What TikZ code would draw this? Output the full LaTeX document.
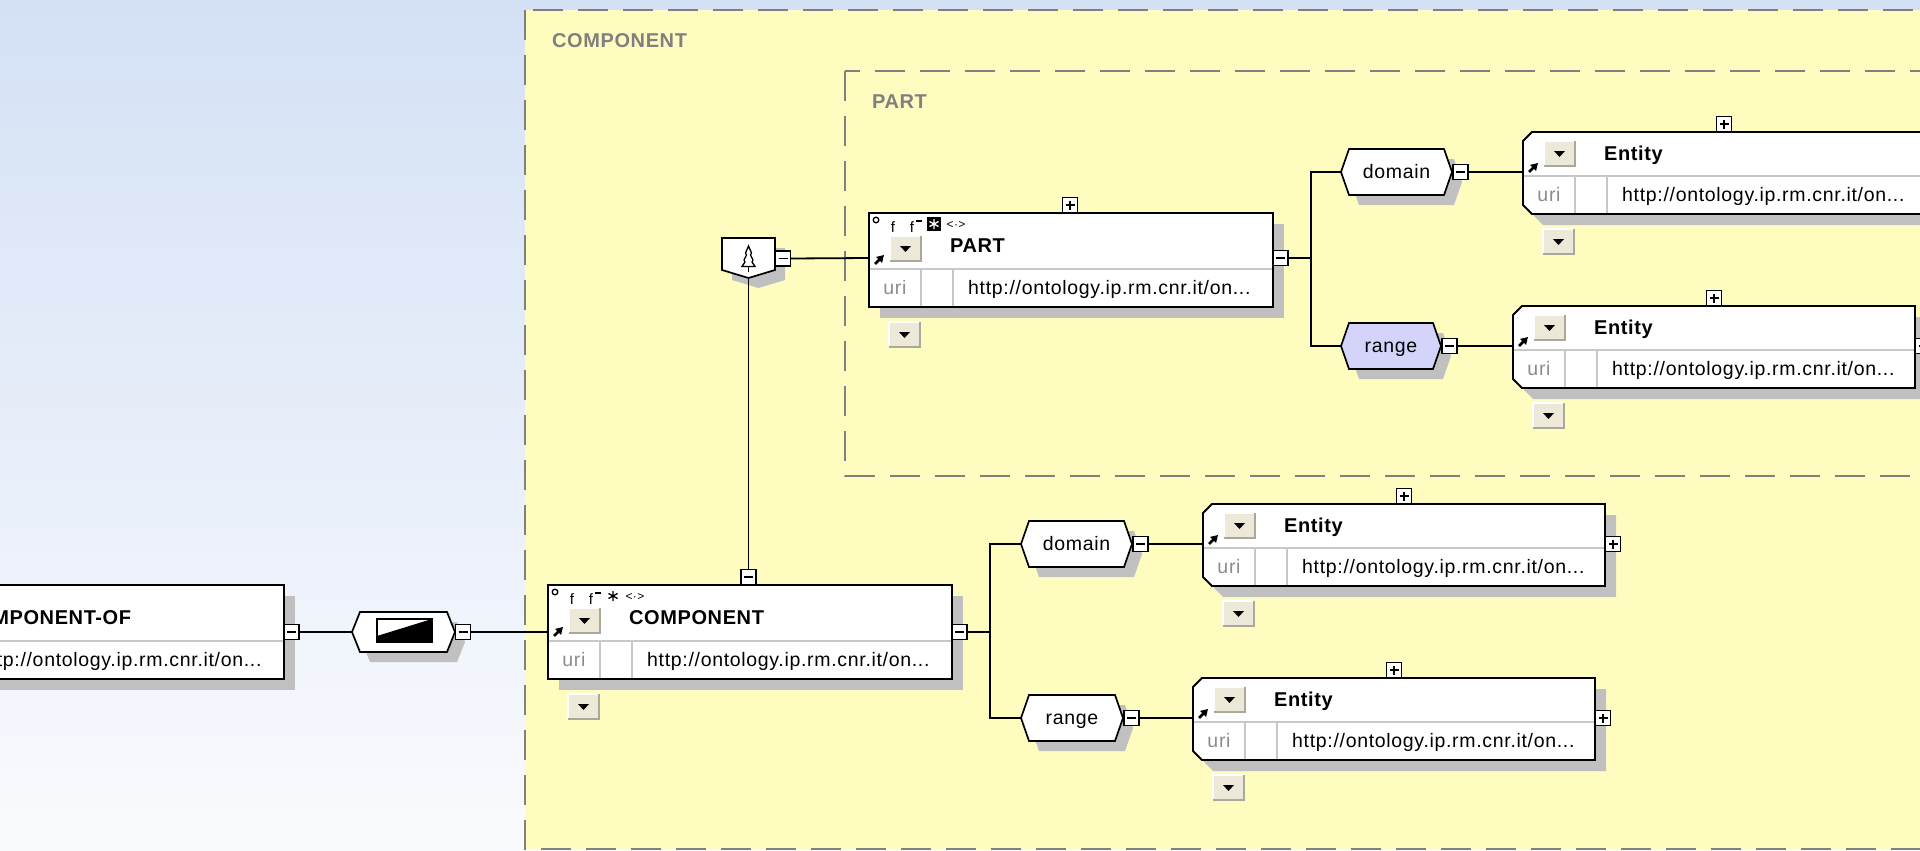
\documentclass[tikz,border=0pt]{standalone}
\usepackage{fontspec}
\setmainfont{Liberation Sans}
\newfontfamily\regf{Liberation Sans}[LetterSpace=3.5]
\newfontfamily\boldf{Liberation Sans}[LetterSpace=3]
\usetikzlibrary{arrows.meta}
\definecolor{ybg}{RGB}{255,252,192}
\definecolor{bgtop}{RGB}{212,225,245}
\definecolor{bgbot}{RGB}{250,251,254}
\definecolor{dashg}{RGB}{128,128,128}
\definecolor{grpg}{RGB}{128,128,128}
\definecolor{shad}{RGB}{192,192,192}
\definecolor{innerg}{RGB}{200,200,200}
\definecolor{urig}{RGB}{140,140,140}
\definecolor{btnbg}{RGB}{236,233,216}
\definecolor{btndk}{RGB}{172,168,153}
\definecolor{lav}{RGB}{212,212,250}
\tikzset{
  conn/.style={draw=black, line width=1.8pt},
  boxline/.style={draw=black, line width=1.9pt},
  innerl/.style={draw=innerg, line width=1.3pt},
  pmbox/.style={rectangle, draw=black, line width=1.4pt, fill=white, minimum size=15pt, inner sep=0pt, outer sep=0pt},
  pmsign/.style={draw=black, line width=1.5pt},
  dropbtn/.style={rectangle, fill=btnbg, minimum width=31pt, minimum height=25pt, inner sep=0pt, outer sep=0pt},
  ttl/.style={font=\boldf\bfseries\fontsize{20}{24}\selectfont, anchor=base west, inner sep=0pt},
  urltxt/.style={font=\regf\fontsize{19.5}{23}\selectfont, anchor=base west, inner sep=0pt},
  uritxt/.style={font=\regf\fontsize{19.5}{23}\selectfont, text=urig, inner sep=0pt},
  hextxt/.style={font=\regf\fontsize{19.5}{23}\selectfont, inner sep=0pt},
  grplbl/.style={font=\boldf\bfseries\fontsize{20}{24}\selectfont, text=grpg, anchor=base west, inner sep=0pt},
  grpdash/.style={draw=dashg, line width=2pt, dash pattern=on 30pt off 15pt},
  icn/.style={font=\regf\fontsize{15}{17}\selectfont, inner sep=0pt},
  smarrow/.style={line width=2.6pt, -{Triangle[length=7pt,width=8pt]}},
}
\newcommand\PMBox[4]{%
  \node[pmbox] (#1) at (#2,#3) {};
  \draw[pmsign] ([xshift=-4.5pt]#1.center) -- ([xshift=4.5pt]#1.center);
  \if#4+\draw[pmsign] ([yshift=-4.5pt]#1.center) -- ([yshift=4.5pt]#1.center);\fi
}
\newcommand\DropBtn[3]{%
  \node[dropbtn, anchor=north west] (#1) at (#2,#3) {};
  \draw[white, line width=1.5pt] (#1.south west) -- (#1.north west) -- (#1.north east);
  \draw[btndk, line width=1.5pt] (#1.north east) -- (#1.south east) -- (#1.south west);
  \fill ([xshift=-5.5pt,yshift=2.5pt]#1.center) -- ([xshift=5.5pt,yshift=2.5pt]#1.center) -- ([yshift=-3.5pt]#1.center) -- cycle;
}
\newcommand\IconRow[4]{%
  \draw[line width=1.3pt] (#2+7,#3+7) circle [radius=2.8pt];
  \node[icn, anchor=base] (#1-i1) at (#2+24,#3+19) {f};
  \node[icn, anchor=base] (#1-i2) at (#2+43,#3+19) {f};
  \draw[line width=1.2pt] (#2+47,#3+8) -- (#2+53,#3+8);
  \ifnum#4=1 \fill[black] (#2+58,#3+4) rectangle (#2+72,#3+18);\def\stc{white}\else\def\stc{black}\fi
  \draw[\stc, line width=1.3pt] (#2+65,#3+6) -- (#2+65,#3+16) (#2+60.5,#3+8.5) -- (#2+69.5,#3+13.5) (#2+60.5,#3+13.5) -- (#2+69.5,#3+8.5);
  \node[icn, anchor=base, font=\regf\fontsize{12}{14}\selectfont] (#1-i4) at (#2+87,#3+15) {<·>};
}
\newcommand\BigBox[5]{%
  \fill[shad] (#2+11,#3+11) rectangle (#2+415,#3+105);
  \fill[white] (#2,#3) rectangle (#2+404,#3+94);
  \draw[innerl] (#2,#3+56) -- (#2+404,#3+56);
  \draw[innerl] (#2+52,#3+56) -- (#2+52,#3+94);
  \draw[innerl] (#2+84,#3+56) -- (#2+84,#3+94);
  \draw[boxline] (#2,#3) rectangle (#2+404,#3+94);
  \node[uritxt, anchor=base] (#1-uri) at (#2+26,#3+81) {uri};
  \node[urltxt] (#1-url) at (#2+99,#3+81) {http://ontology.ip.rm.cnr.it/on...};
  \node[ttl] (#1-title) at (#2+81,#3+39) {#4};
  \DropBtn{#1-b1}{#2+21}{#3+23}
  \DropBtn{#1-b2}{#2+20}{#3+109}
  \draw[smarrow] (#2+6,#3+51) -- (#2+15,#3+42);
  \IconRow{#1}{#2}{#3}{#5}
}
\newcommand\EntBox[3]{%
  \fill[shad] (#2+11,#3+20) -- (#2+20,#3+11) -- (#2+413,#3+11) -- (#2+413,#3+93) -- (#2+20,#3+93) -- (#2+11,#3+84) -- cycle;
  \fill[white] (#2,#3+9) -- (#2+9,#3) -- (#2+402,#3) -- (#2+402,#3+82) -- (#2+9,#3+82) -- (#2,#3+73) -- cycle;
  \draw[innerl] (#2,#3+44) -- (#2+402,#3+44);
  \draw[innerl] (#2+52,#3+44) -- (#2+52,#3+82);
  \draw[innerl] (#2+84,#3+44) -- (#2+84,#3+82);
  \draw[boxline] (#2,#3+9) -- (#2+9,#3) -- (#2+402,#3) -- (#2+402,#3+82) -- (#2+9,#3+82) -- (#2,#3+73) -- cycle;
  \node[uritxt, anchor=base] (#1-uri) at (#2+26,#3+69) {uri};
  \node[urltxt] (#1-url) at (#2+99,#3+69) {http://ontology.ip.rm.cnr.it/on...};
  \node[ttl] (#1-title) at (#2+81,#3+28) {Entity};
  \DropBtn{#1-b1}{#2+21}{#3+9}
  \DropBtn{#1-b2}{#2+20}{#3+97}
  \draw[smarrow] (#2+6,#3+40) -- (#2+15,#3+31);
  \coordinate (#1-in) at (#2,#3+40);
}
\newcommand\HexShape[7]{%
  \fill[shad] (#2+10,#3+10) -- (#2+18,#3+10-#5/2) -- (#2+#4+2,#3+10-#5/2) -- (#2+#4+10,#3+10) -- (#2+#4+2,#3+10+#5/2) -- (#2+18,#3+10+#5/2) -- cycle;
  \draw[draw=black, line width=1.7pt, fill=#6] (#2,#3) -- (#2+8,#3-#5/2) -- (#2+#4-8,#3-#5/2) -- (#2+#4,#3) -- (#2+#4-8,#3+#5/2) -- (#2+8,#3+#5/2) -- cycle;
  \coordinate (#1-in) at (#2,#3);
  \coordinate (#1-out) at (#2+#4,#3);
  \node[hextxt, anchor=base] (#1-t) at (#2+#4/2,#3+6) {#7};
}
\begin{document}
\begin{tikzpicture}[x=1pt,y=-1pt]
\useasboundingbox (0,0) rectangle (1920,851);
\clip (0,0) rectangle (1920,851);
\shade[top color=bgtop, bottom color=bgbot] (0,0) rectangle (1920,851);
% group areas
\draw[grpdash, fill=ybg] (525,10) rectangle (2000,849);
\draw[grpdash] (845,71) rectangle (2000,476);
\node[grplbl] (lblC) at (552,48) {COMPONENT};
\node[grplbl] (lblP) at (872,108) {PART};

% COMPONENT-OF
\BigBox{cof}{-120}{585}{COMPONENT-OF}{0}
% hex with type icon
\HexShape{h0}{352}{632}{103}{40}{white}{}
\draw[line width=2pt] (377,619) rectangle (432,642);
\fill (377,636) -- (432,619) -- (432,642) -- (377,642) -- cycle;
% COMPONENT
\BigBox{cmp}{548}{585}{COMPONENT}{0}
\coordinate (cmp-in) at (548,632);
% sequence compositor
\fill[shad] (732,248) -- (785,248) -- (785,280) -- (758.5,288) -- (732,280) -- cycle;
\draw[line width=1.7pt, fill=white] (722,238) -- (775,238) -- (775,270) -- (748.5,278) -- (722,270) -- cycle;
\coordinate (seq-bot) at (748.5,278);
\draw[line width=1.3pt, fill=white] (748.5,246) -- (745.5,253) -- (746.5,255) -- (744,260) -- (745,262) -- (742,266.5) -- (755,266.5) -- (752,262) -- (753,260) -- (750.5,255) -- (751.5,253) -- cycle;
\draw[line width=1.3pt] (748.5,266.5) -- (748.5,272);
% PART
\BigBox{prt}{869}{213}{PART}{1}
\coordinate (prt-in) at (869,258);
% hexes
\HexShape{hA}{1341}{172}{111}{46}{white}{domain}
\HexShape{hB}{1341}{346}{100}{46}{lav}{range}
\HexShape{hC}{1021}{544}{111}{46}{white}{domain}
\HexShape{hD}{1021}{718}{102}{46}{white}{range}
% entities
\EntBox{eA}{1523}{132}
\EntBox{eB}{1513}{306}
\EntBox{eC}{1203}{504}
\EntBox{eD}{1193}{678}
% junctions
\coordinate (jP) at (1311,258);
\coordinate (jC) at (990,632);
% plus/minus boxes
\PMBox{mCOF}{291.5}{632}{-}
\PMBox{mH0}{463}{632}{-}
\PMBox{mCtop}{748.5}{577}{-}
\PMBox{mC}{959.5}{632}{-}
\PMBox{mSeq}{783}{258.5}{-}
\PMBox{pPtop}{1070}{205}{+}
\PMBox{mP}{1280.5}{258}{-}
\PMBox{mA}{1460.5}{172}{-}
\PMBox{mB}{1449.5}{346}{-}
\PMBox{mHC}{1140.5}{544}{-}
\PMBox{mHD}{1131.5}{718}{-}
\PMBox{pAtop}{1724}{124}{+}
\PMBox{pBtop}{1714}{298}{+}
\PMBox{pBr}{1923}{346}{+}
\PMBox{pCtop}{1404}{496}{+}
\PMBox{pCr}{1613}{544}{+}
\PMBox{pDtop}{1394}{670}{+}
\PMBox{pDr}{1603}{718}{+}
% connectors
\draw[conn] (mCOF.east) -- (h0-in);
\draw[conn] (mH0.east) -- (cmp-in);
\draw[conn] (mCtop.north) -- (seq-bot);
\draw[conn] (mSeq.east) -- (prt-in);
\draw[conn] (mP.east) -- (jP);
\draw[conn] (hA-in) -| (jP) |- (hB-in);
\draw[conn] (mA.east) -- (eA-in);
\draw[conn] (mB.east) -- (eB-in);
\draw[conn] (mC.east) -- (jC);
\draw[conn] (hC-in) -| (jC) |- (hD-in);
\draw[conn] (mHC.east) -- (eC-in);
\draw[conn] (mHD.east) -- (eD-in);
\end{tikzpicture}
\end{document}
